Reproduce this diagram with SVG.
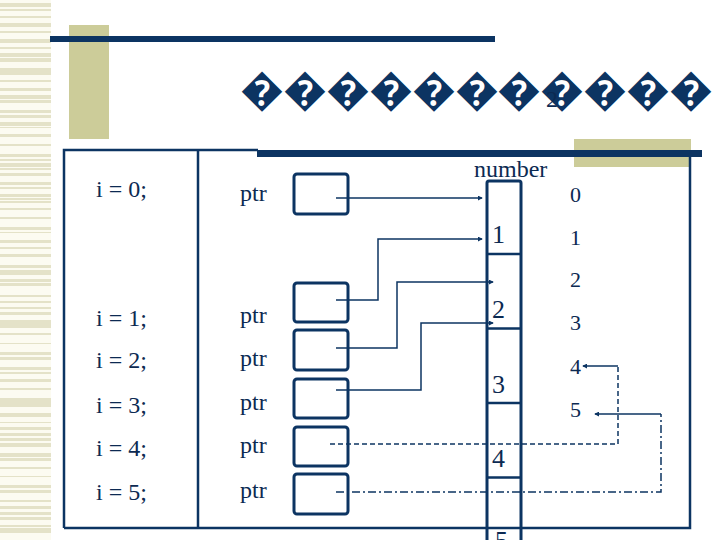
<svg xmlns="http://www.w3.org/2000/svg" width="720" height="540" viewBox="0 0 720 540">
<style>
.navy{fill:#0c3462}
.frame{fill:none;stroke:#0c3462;stroke-width:2.5}
.col{fill:none;stroke:#0c3462;stroke-width:3}
.div{stroke:#0c3462;stroke-width:2.5}
.box{fill:#ffffff;stroke:#0c3462;stroke-width:3}
.lbl{font-family:"Liberation Serif","Times New Roman",serif;fill:#0c2a52;font-size:24px}
.num{font-family:"Liberation Serif","Times New Roman",serif;fill:#0c2a52;font-size:26px}
.idx{font-family:"Liberation Serif","Times New Roman",serif;fill:#0c2a52;font-size:22px}
.title{font-family:"Liberation Serif","Times New Roman",serif;fill:#0c3462;font-size:44px}
.wire{fill:none;stroke:#0c3462;stroke-width:1.5}
.dash{stroke-dasharray:5 3}
.dashdot{stroke-dasharray:8 3 2 3}
.khaki{fill:#cccc99}
.stripe{fill:#e4e2c8}
</style>
<defs>
<marker id="tip" viewBox="0 0 6 6" refX="5" refY="3" markerWidth="5" markerHeight="5" markerUnits="userSpaceOnUse" orient="auto">
<path d="M0,0 L6,3 L0,6 Z" fill="#0c3462"/>
</marker>
</defs>
<rect width="720" height="540" fill="#ffffff"/>
<g id="decor">
<rect x="0" y="0" width="51" height="540" fill="#fcfbf1"/>
<path class="stripe" d="M0,3h51v4h-51zM0,9h51v2h-51zM0,16h51v2h-51zM0,23h51v4h-51zM0,31h51v2h-51zM0,39h51v4h-51zM0,47h51v2h-51zM0,53h51v4h-51zM0,58h51v4h-51zM0,68h51v7h-51zM0,80h51v2h-51zM0,88h51v3h-51zM0,95h51v4h-51zM0,100h51v3h-51zM0,110h51v3h-51zM0,115h51v3h-51zM0,122h51v4h-51zM0,127h51v1h-51zM0,134h51v3h-51zM0,144h51v2h-51zM0,154h51v3h-51zM0,159h51v2h-51zM0,163h51v4h-51zM0,168h51v2h-51zM0,173h51v3h-51zM0,182h51v3h-51zM0,187h51v2h-51zM0,194h51v3h-51zM0,198h51v2h-51zM0,201h51v2h-51zM0,208h51v2h-51zM0,217h51v2h-51zM0,227h51v3h-51zM0,232h51v1h-51zM0,240h51v3h-51zM0,247h51v2h-51zM0,254h51v3h-51zM0,265h51v3h-51zM0,270h51v5h-51zM0,279h51v3h-51zM0,283h51v3h-51zM0,295h51v2h-51zM0,301h51v2h-51zM0,307h51v2h-51zM0,312h51v3h-51zM0,320h51v8h-51zM0,333h51v2h-51zM0,343h51v1h-51zM0,352h51v3h-51zM0,357h51v3h-51zM0,367h51v3h-51zM0,372h51v2h-51zM0,379h51v3h-51zM0,388h51v2h-51zM0,398h51v9h-51zM0,413h51v4h-51zM0,422h51v1h-51zM0,427h51v3h-51zM0,433h51v3h-51zM0,438h51v3h-51zM0,443h51v4h-51zM0,453h51v4h-51zM0,458h51v3h-51zM0,467h51v2h-51zM0,476h51v1h-51zM0,485h51v3h-51zM0,490h51v3h-51zM0,500h51v2h-51zM0,506h51v3h-51zM0,512h51v3h-51zM0,517h51v3h-51zM0,525h51v2h-51zM0,528h51v5h-51z"/>
<rect class="khaki" x="69" y="25" width="40" height="114"/>
<rect class="navy" x="50" y="36" width="445" height="6"/>
<rect class="khaki" x="574" y="139" width="117" height="28"/>
</g>
<g id="title">
<text class="title" x="240" y="105" textLength="473" lengthAdjust="spacing">�����������</text>
<text class="lbl" x="546" y="107" font-size="30px">2</text>
</g>
<g id="frame">
<path class="frame" d="M64,528 V150 H258 M690,157 V528 H64 M198,150 V528"/>
<rect class="navy" x="257" y="150" width="445" height="7"/>
</g>
<g id="labels-i">
<text class="lbl" x="96" y="197">i = 0;</text>
<text class="lbl" x="96" y="326">i = 1;</text>
<text class="lbl" x="96" y="368">i = 2;</text>
<text class="lbl" x="96" y="413">i = 3;</text>
<text class="lbl" x="96" y="456">i = 4;</text>
<text class="lbl" x="96" y="500">i = 5;</text>
</g>
<g id="labels-ptr">
<text class="lbl" x="240" y="201">ptr</text>
<text class="lbl" x="240" y="323">ptr</text>
<text class="lbl" x="240" y="366">ptr</text>
<text class="lbl" x="240" y="410">ptr</text>
<text class="lbl" x="240" y="453">ptr</text>
<text class="lbl" x="240" y="498">ptr</text>
</g>
<g id="ptr0"><rect class="box" x="294" y="174" width="54" height="40" rx="3"/></g>
<g id="ptr1"><rect class="box" x="294" y="283" width="54" height="39" rx="3"/></g>
<g id="ptr2"><rect class="box" x="294" y="330" width="54" height="40" rx="3"/></g>
<g id="ptr3"><rect class="box" x="294" y="379" width="54" height="39" rx="3"/></g>
<g id="ptr4"><rect class="box" x="294" y="427" width="54" height="39" rx="3"/></g>
<g id="ptr5"><rect class="box" x="294" y="474" width="54" height="40" rx="3"/></g>
<g id="number">
<text class="lbl" x="474" y="177">number</text>
<path class="col" d="M487,560 V183 Q487,181 489,181 H519 Q521,181 521,183 V560"/>
<path class="div" d="M487,254 H521 M487,328.5 H521 M487,403 H521 M487,477.5 H521"/>
<text class="num" x="492" y="243">1</text>
<text class="num" x="492" y="318">2</text>
<text class="num" x="492" y="393">3</text>
<text class="num" x="492" y="467">4</text>
<text class="num" x="495" y="549">5</text>
</g>
<g id="index">
<text class="idx" x="570" y="202">0</text>
<text class="idx" x="570" y="245">1</text>
<text class="idx" x="570" y="287">2</text>
<text class="idx" x="570" y="330">3</text>
<text class="idx" x="570" y="374">4</text>
<text class="idx" x="570" y="417">5</text>
</g>
<g id="connectors">
<path class="wire" d="M336,198 H482" marker-end="url(#tip)"/>
<path class="wire" d="M336,300 H378 V239 H482" marker-end="url(#tip)"/>
<path class="wire" d="M336,348 H397 V282 H493" marker-end="url(#tip)"/>
<path class="wire" d="M336,390 H421 V323 H493" marker-end="url(#tip)"/>
<path class="wire dash" d="M330,444 H618 V366"/>
<path class="wire" d="M618,366 H583" marker-end="url(#tip)"/>
<path class="wire dashdot" d="M336,492 H661 V414"/>
<path class="wire" d="M661,414 H595" marker-end="url(#tip)"/>
</g>
</svg>
